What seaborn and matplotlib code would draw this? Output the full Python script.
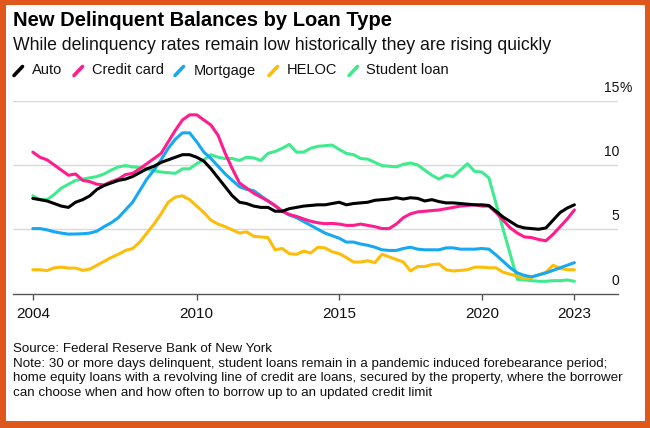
import matplotlib
matplotlib.use("Agg")
import matplotlib.pyplot as plt
import matplotlib.transforms as mtransforms
import numpy as np
import pandas as pd
import seaborn as sns
from matplotlib.lines import Line2D
from matplotlib.patches import Rectangle

# Quarterly data, 2004Q1 .. 2023Q1 (% of balances newly delinquent)
start_year = 2004.25
auto = [7.4, 7.3, 7.2, 7.0, 6.8, 6.7, 7.1, 7.3, 7.6, 8.1, 8.4, 8.6, 8.8, 8.9, 9.1, 9.4,
        9.7, 9.9, 10.2, 10.4, 10.6, 10.8, 10.8, 10.6, 10.3, 9.7, 9.0, 8.3, 7.6, 7.1, 7.0, 6.8,
        6.7, 6.7, 6.4, 6.4, 6.6, 6.7, 6.8, 6.85, 6.9, 6.9, 7.0, 7.1, 6.9, 7.0, 7.05, 7.1,
        7.25, 7.3, 7.35, 7.45, 7.35, 7.45, 7.4, 7.2, 7.3, 7.15, 7.05, 7.05, 7.0, 6.95, 6.9, 6.9,
        6.85, 6.4, 5.95, 5.6, 5.25, 5.1, 5.05, 5.0, 5.1, 5.7, 6.3, 6.65, 6.9]
credit_card = [11.0, 10.6, 10.4, 10.0, 9.6, 9.2, 9.3, 8.8, 8.7, 8.5, 8.45, 8.7, 8.9, 9.25, 9.35, 9.7,
               10.1, 10.5, 10.9, 11.8, 12.7, 13.5, 13.9, 13.9, 13.5, 13.1, 12.3, 10.9, 9.7, 8.6, 8.2, 7.8,
               7.5, 7.2, 6.85, 6.4, 6.15, 6.0, 5.8, 5.62, 5.5, 5.43, 5.45, 5.4, 5.3, 5.3, 5.4, 5.3,
               5.2, 5.05, 5.05, 5.4, 5.9, 6.2, 6.35, 6.4, 6.45, 6.5, 6.6, 6.7, 6.8, 6.85, 6.9, 6.8,
               6.8, 6.3, 5.7, 5.1, 4.7, 4.4, 4.35, 4.2, 4.1, 4.6, 5.2, 5.8, 6.5]
mortgage = [5.05, 5.05, 4.95, 4.8, 4.7, 4.62, 4.63, 4.65, 4.7, 4.85, 5.2, 5.5, 5.9, 6.5, 7.1, 8.0,
            8.9, 9.6, 10.4, 11.3, 12.0, 12.5, 12.5, 11.8, 11.0, 10.5, 9.9, 9.3, 8.8, 8.3, 8.1, 8.0,
            7.6, 7.2, 6.8, 6.4, 6.1, 5.9, 5.6, 5.3, 5.0, 4.7, 4.5, 4.3, 4.0, 4.0, 3.85, 3.75,
            3.6, 3.4, 3.35, 3.35, 3.5, 3.6, 3.45, 3.4, 3.4, 3.4, 3.55, 3.55, 3.45, 3.45, 3.45, 3.5,
            3.45, 3.0, 2.5, 2.0, 1.6, 1.4, 1.3, 1.45, 1.6, 1.8, 2.0, 2.2, 2.4]
heloc = [1.85, 1.85, 1.78, 2.0, 2.05, 1.98, 1.98, 1.8, 1.9, 2.2, 2.5, 2.8, 3.05, 3.35, 3.5, 4.0,
         4.7, 5.4, 6.2, 7.1, 7.5, 7.6, 7.3, 6.8, 6.3, 5.7, 5.4, 5.2, 4.95, 4.7, 4.8, 4.45,
         4.4, 4.35, 3.4, 3.5, 3.1, 3.05, 3.3, 3.15, 3.6, 3.55, 3.25, 3.1, 2.8, 2.45, 2.45, 2.55,
         2.4, 3.05, 2.85, 2.65, 2.45, 1.75, 2.1, 2.1, 2.25, 2.3, 1.85, 1.75, 1.8, 1.85, 2.05, 2.05,
         2.0, 2.0, 1.65, 1.5, 1.35, 1.15, 1.25, 1.45, 1.65, 2.2, 1.95, 1.85, 1.85]
student_loan = [7.6, 7.3, 7.3, 7.7, 8.2, 8.5, 8.8, 8.9, 9.0, 9.1, 9.3, 9.6, 9.85, 9.95, 9.85, 9.8,
                9.7, 9.55, 9.45, 9.4, 9.35, 9.7, 9.7, 10.1, 10.4, 10.8, 10.6, 10.5, 10.5, 10.35, 10.6, 10.55,
                10.35, 10.9, 11.05, 11.3, 11.6, 11.0, 11.0, 11.3, 11.45, 11.5, 11.55, 11.2, 10.9, 10.8, 10.5, 10.45,
                10.2, 9.95, 9.9, 9.85, 10.05, 10.15, 10.0, 9.6, 9.2, 8.9, 9.2, 9.1, 9.6, 10.1, 9.5, 9.45,
                9.0, 7.0, 5.0, 3.05, 1.1, 1.05, 1.0, 0.95, 0.95, 1.0, 1.0, 1.05, 0.95]

loan_types = ["Auto", "Credit card", "Mortgage", "HELOC", "Student loan"]
colors = ["#000000", "#ff1d8e", "#16a9f2", "#fdbd0b", "#40eb8e"]
tick_pos = [2004.25, 2010, 2015, 2020, 2023.25]
tick_labels = ["2004", "2010", "2015", "2020", "2023"]
y_ticks = [0, 5, 10, 15]

footer_lines = [
    "Source: Federal Reserve Bank of New York",
    "Note: 30 or more days delinquent, student loans remain in a pandemic induced forebearance period;",
    "home equity loans with a revolving line of credit are loans, secured by the property, where the borrower",
    "can choose when and how often to borrow up to an updated credit limit",
]

W, H = 650, 428


def fx(x):
    return x / W


def fy(y):
    return 1 - y / H


quarters = start_year + 0.25 * np.arange(len(auto))
series = dict(zip(loan_types, [auto, credit_card, mortgage, heloc, student_loan]))
df = pd.DataFrame([
    {"date": q, "value": v, "type": name}
    for name, vals in series.items()
    for q, v in zip(quarters, vals)
])

sns.set_theme(style="white")
plt.rcParams["font.family"] = ["Liberation Sans", "DejaVu Sans"]

fig = plt.figure(figsize=(W / 100, H / 100), dpi=100)
fig.patch.set_facecolor("#e0571d")
fig.add_artist(Rectangle((fx(6), fy(421)), fx(645) - fx(6), fy(5) - fy(421),
                         transform=fig.transFigure, facecolor="white", edgecolor="none", zorder=0))

ax = fig.add_axes([fx(13.3), fy(293.5), fx(618) - fx(13.3), fy(100.7) - fy(293.5)])
ax.set_facecolor("none")

for v in y_ticks[1:]:
    ax.axhline(v, color="#d9d9d9", lw=1.0, zorder=1)

sns.lineplot(
    data=df, x="date", y="value", hue="type",
    hue_order=loan_types[::-1], palette=dict(zip(loan_types, colors)),
    lw=2.2, ax=ax, legend=False, zorder=3,
)

ax.set_xlim(2003.565, 2024.78)
ax.set_ylim(0, 15)
ax.set_xlabel("")
ax.set_ylabel("")
ax.set_yticks([])
ax.set_xticks(tick_pos)
ax.set_xticklabels(tick_labels)
ax.tick_params(axis="x", length=4, width=1, color="#555555", labelsize=11, pad=6,
               labelcolor="#111111", bottom=True)
for side in ["top", "left", "right"]:
    ax.spines[side].set_visible(False)
ax.spines["bottom"].set_color("#555555")
ax.spines["bottom"].set_linewidth(1)

trans = mtransforms.blended_transform_factory(ax.transAxes, ax.transData)
for v in y_ticks:
    ax.text(1.002, v + 1.0, str(v), transform=trans, ha="right", va="center",
            fontsize=10, color="#111111")
ax.text(1.002, 16.0, "%", transform=trans, ha="left", va="center", fontsize=10, color="#111111")

fig.text(fx(13), fy(20), "New Delinquent Balances by Loan Type", fontsize=14.5,
         fontweight="bold", ha="left", va="center", color="#000000")
fig.text(fx(13), fy(45), "While delinquency rates remain low historically they are rising quickly",
         fontsize=12.7, ha="left", va="center", color="#111111")

marker_x = [14, 74, 175, 269, 349]
label_x = [32, 92, 194, 287, 366]
for name, col, mx, lx in zip(loan_types, colors, marker_x, label_x):
    fig.add_artist(Line2D([fx(mx), fx(mx + 8.5)], [fy(75.5), fy(66.5)],
                          transform=fig.transFigure, color=col, lw=2.6))
    fig.text(fx(lx), fy(70.5), name, fontsize=10.5, ha="left", va="center", color="#111111")

for k, line in enumerate(footer_lines):
    fig.text(fx(13), fy(349 + 14.7 * k), line, fontsize=9.6, ha="left", va="center",
             color="#111111")

fig.savefig("out.png", dpi=100, facecolor=fig.get_facecolor())
